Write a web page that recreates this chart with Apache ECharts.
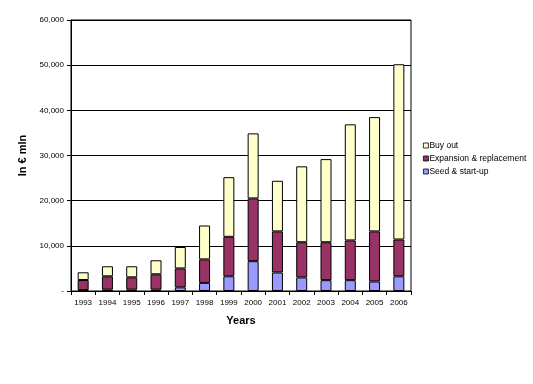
<!DOCTYPE html>
<html>
<head>
<meta charset="utf-8">
<script src="https://cdn.jsdelivr.net/npm/echarts@6/dist/echarts.min.js"></script>
<style>html,body{margin:0;padding:0;background:#fff}#c{width:533px;height:384px}</style>
</head>
<body>
<div id="c"></div>
<script>
const years = ['1993','1994','1995','1996','1997','1998','1999','2000','2001','2002','2003','2004','2005','2006'];
const seedStartUp = [200,300,300,300,800,1800,3250,6600,4100,3000,2400,2400,2100,3250];
const expansionReplacement = [2230,2950,2730,3400,4200,5200,8750,13900,9100,7800,8400,8800,11100,8150];
const buyOut = [1710,2220,2440,3100,4740,7500,13200,14400,11200,16800,18400,25700,25300,38800];
const yTicks = { min: 0, max: 60000, interval: 10000 };

const chart = echarts.init(document.getElementById('c'));
const font = 'Liberation Sans, Arial, sans-serif';
function mk(name, data, color) {
  return { name, type: 'bar', stack: 'total', data, barWidth: 11,
    itemStyle: { color, borderColor: '#000', borderWidth: 1 } };
}
chart.setOption({
  animation: false,
  backgroundColor: '#fff',
  grid: { left: 71, right: 122, top: 20, bottom: 93, show: true, borderColor: '#000', borderWidth: 1 },
  legend: {
    orient: 'vertical', left: 418, top: 136,
    data: ['Buy out', 'Expansion & replacement', 'Seed & start-up'],
    itemWidth: 5, itemHeight: 5, itemGap: 4,
    itemStyle: { borderWidth: 0.8 },
    textStyle: { fontFamily: font, fontSize: 8.5, color: '#000', padding: [0,0,0,-4] },
    icon: 'rect'
  },
  xAxis: {
    type: 'category', data: years,
    name: 'Years', nameLocation: 'middle', nameGap: 24,
    nameTextStyle: { fontFamily: font, fontSize: 11, fontWeight: 'bold', color: '#000' },
    axisLine: { lineStyle: { color: '#000' } },
    axisTick: { show: true, length: 4, lineStyle: { color: '#000' } },
    axisLabel: { fontFamily: font, fontSize: 8, color: '#000', margin: 8, interval: 0 }
  },
  yAxis: {
    type: 'value', min: yTicks.min, max: yTicks.max, interval: yTicks.interval,
    name: 'In € mln', nameLocation: 'middle', nameGap: 43, nameRotate: 90,
    nameTextStyle: { fontFamily: font, fontSize: 11, fontWeight: 'bold', color: '#000' },
    axisLine: { show: true, lineStyle: { color: '#000' } },
    axisTick: { show: true, length: 4, lineStyle: { color: '#000' } },
    splitLine: { lineStyle: { color: '#000', width: 1 } },
    axisLabel: { fontFamily: font, fontSize: 8, color: '#000', margin: 7,
      formatter: v => v === 0 ? '-' : v.toLocaleString('en-US') }
  },
  series: [
    mk('Seed & start-up', seedStartUp, '#9999FF'),
    mk('Expansion & replacement', expansionReplacement, '#993366'),
    mk('Buy out', buyOut, '#FFFFCC')
  ]
});
</script>
</body>
</html>
